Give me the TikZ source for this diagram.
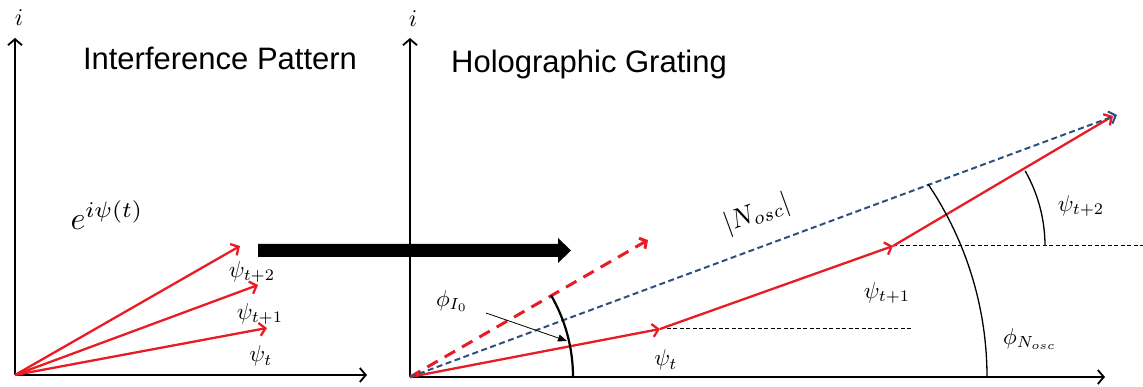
\documentclass[tikz,border=0pt]{standalone}
\usepackage{fontspec}
\newfontfamily\arialf{Liberation Sans}
\usetikzlibrary{arrows.meta}
\definecolor{vred}{RGB}{232,28,36}
\definecolor{vblue}{RGB}{47,79,125}
\begin{document}
\begin{tikzpicture}[x=1pt,y=1pt,
  axis/.style={line width=1.8pt,-{Straight Barb[length=6pt,width=14pt]}},
  vec/.style={vred,line width=2.3pt,-{Straight Barb[length=6pt,width=13pt]}},
  dvec/.style={vred,line width=3pt,dash pattern=on 12pt off 8pt,-{Straight Barb[length=5pt,width=12pt]}},
  bvec/.style={vblue,line width=2pt,dash pattern=on 6pt off 3.5pt,-{Straight Barb[length=6pt,width=13pt]}},
  guide/.style={black,line width=1pt,dash pattern=on 4pt off 2.5pt},
  anglearc/.style={black,line width=1.3pt},
  lbl/.style={inner sep=0pt,scale=#1},
  lbl/.default=2.3,
  title/.style={font=\arialf\fontsize{31}{36}\selectfont,anchor=base,inner sep=0pt}]
\useasboundingbox (0,0) rectangle (1143,387);
% ---------- left panel ----------
\coordinate (O1) at (15,12);
\coordinate (Y1) at (15,349);
\coordinate (X1) at (367,12);
\draw[axis] (O1) -- (Y1);
\draw[axis] (O1) -- (X1);
\node[lbl=2.4] (i1) at (19,369) {$i$};
\node[title] (t1) at (220,317) {Interference Pattern};
\coordinate (A2) at (240,141);
\coordinate (A1) at (258,102);
\coordinate (A0) at (267,59);
\draw[vec] (O1) -- (A2);
\draw[vec] (O1) -- (A1);
\draw[vec] (O1) -- (A0);
\node[lbl] (l2) at (252,115) {$\psi_{t+2}$};
\node[lbl] (l1) at (260,73) {$\psi_{t+1}$};
\node[lbl] (l0) at (261,31) {$\psi_{t}$};
\node[lbl=3.2] (e) at (107,172) {$e^{i\psi(t)}$};
% ---------- big arrow ----------
\fill[black] (258,130) -- (558,130) -- (558,124) -- (571,136.5) -- (558,149) -- (558,143) -- (258,143) -- cycle;
% ---------- right panel ----------
\coordinate (O2) at (410,10);
\coordinate (Y2) at (410,349);
\coordinate (X2) at (1105,10);
\draw[axis] (O2) -- (Y2);
\draw[axis] (O2) -- (X2);
\node[lbl=2.4] (i2) at (413,368) {$i$};
\node[title] (t2) at (589,314) {Holographic Grating};
\coordinate (P1) at (660,58);
\coordinate (P2) at (893,141);
\coordinate (P3) at (1113,271);
\coordinate (B) at (1117,272);
\coordinate (D) at (648,147);
\coordinate (G1) at (911,58);
\coordinate (G2) at (1143,141);
\draw[guide] (P1) -- (G1);
\draw[guide] (P2) -- (G2);
\draw[dvec] (O2) -- (D);
\draw[vec] (O2) -- (P1);
\draw[vec] (P1) -- (P2);
\draw[vec] (P2) -- (P3);
\draw[bvec] (O2) -- (B);
% angle arcs
\draw[anglearc,line width=2.2pt] (O2) ++(163,0) arc[start angle=0,end angle=30,radius=163];
\coordinate (CN) at (642,10);
\draw[anglearc] (CN) ++(345,0) arc[start angle=0,end angle=34,radius=345];
\draw[anglearc] (P2) ++(152,0) arc[start angle=0,end angle=29.6,radius=152];
% labels
\node[lbl] (phi0) at (452,86) {$\phi_{I_0}$};
\coordinate (ps) at (486,74);
\coordinate (pe) at (567,46);
\draw[line width=0.8pt,-{Triangle[length=9pt,width=7pt]}] (ps) -- (pe);
\node[lbl] (r0) at (666,27) {$\psi_{t}$};
\node[lbl] (r1) at (887,94) {$\psi_{t+1}$};
\node[lbl] (r2) at (1081,181) {$\psi_{t+2}$};
\node[lbl] (phiN) at (1030,48) {$\phi_{N_{osc}}$};
\node[lbl=2.7,rotate=20] (N) at (757,173) {$|N_{osc}|$};
\end{tikzpicture}
\end{document}
